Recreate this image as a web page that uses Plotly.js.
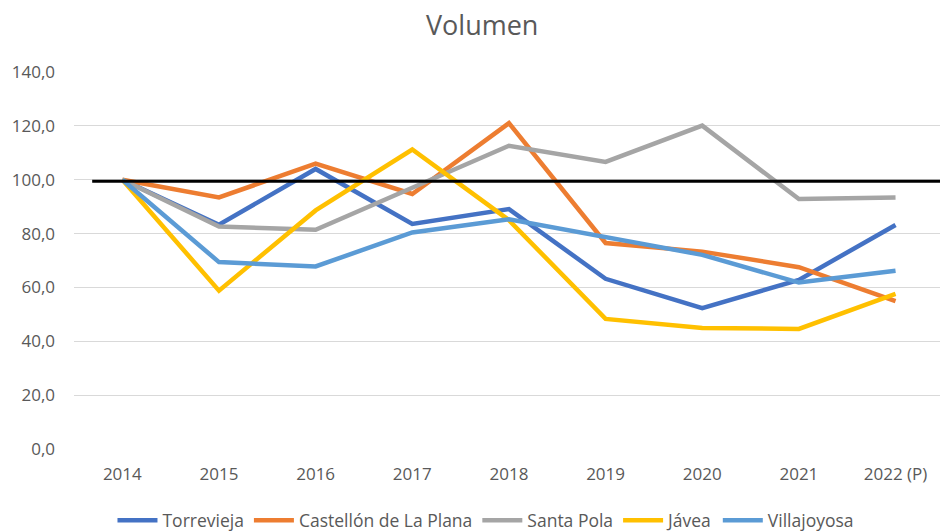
<!DOCTYPE html>
<html>
<head>
<meta charset="utf-8">
<script src="https://cdn.plot.ly/plotly-3.0.1.min.js"></script>
<style>html,body{margin:0;padding:0;background:#fff;}#chart{width:940px;height:531px;}</style>
</head>
<body>
<div id="chart"></div>
<script>
const categories = ["2014","2015","2016","2017","2018","2019","2020","2021","2022 (P)"];
const torrevieja = [100.0, 83.3, 104.0, 83.6, 89.1, 63.2, 52.3, 62.8, 83.2];
const castellon  = [100.0, 93.4, 106.0, 94.7, 121.0, 76.5, 73.3, 67.5, 54.9];
const santaPola  = [100.0, 82.6, 81.4, 97.2, 112.6, 106.6, 120.1, 92.8, 93.4];
const javea      = [100.0, 58.8, 88.6, 111.2, 85.0, 48.3, 44.9, 44.6, 57.6];
const villajoyosa= [100.0, 69.4, 67.8, 80.4, 85.3, 78.9, 72.1, 61.8, 66.2];
const seriesNames = ["Torrevieja","Castellón de La Plana","Santa Pola","Jávea","Villajoyosa"];
const referenceLevel = 99.4;
const yTicks = [0,20,40,60,80,100,120,140];

const colors = ["#4472C4","#ED7D31","#A5A5A5","#FFC000","#5B9BD5"];
const values = [torrevieja, castellon, santaPola, javea, villajoyosa];
const FONT = '"Open Sans", sans-serif';

const traces = values.map((v,i)=>({
  type:'scatter', mode:'lines', x:categories, y:v, name:seriesNames[i],
  line:{color:colors[i], width:4.5}, cliponaxis:false
}));

const layout = {
  width:940, height:531,
  margin:{l:74, r:0, t:72, b:82},
  paper_bgcolor:'#fff', plot_bgcolor:'#fff',
  separators:',.',
  font:{family:FONT, color:'#595959', size:17},
  title:{text:'Volumen', font:{size:27, color:'#595959', family:FONT}, x:0.513, xref:'container', y:0.951, yref:'container', yanchor:'middle', xanchor:'center'},
  xaxis:{type:'category', range:[-0.5, 8.46], showgrid:false, zeroline:false, showline:false, ticks:'', tickfont:{size:17, color:'#595959'}, ticklabelstandoff:13},
  yaxis:{range:[0,140], tickvals:yTicks, tickformat:'.1f', showgrid:true, gridcolor:'#D9D9D9', gridwidth:1, zeroline:false, showline:false, ticks:'', tickfont:{size:17, color:'#595959'}, ticklabelstandoff:18},
  showlegend:true,
  legend:{orientation:'h', xref:'container', x:0.517, xanchor:'center', yref:'container', y:0.02, yanchor:'middle', font:{size:17.5, color:'#595959'}, itemwidth:40, tracegroupgap:0, bgcolor:'rgba(0,0,0,0)'},
  shapes:[{type:'line', xref:'paper', x0:0.021, x1:1, yref:'y', y0:referenceLevel, y1:referenceLevel, line:{color:'#000', width:3}, layer:'above'}]
};
Plotly.newPlot('chart', traces, layout, {displayModeBar:false, staticPlot:true});
</script>
</body>
</html>
